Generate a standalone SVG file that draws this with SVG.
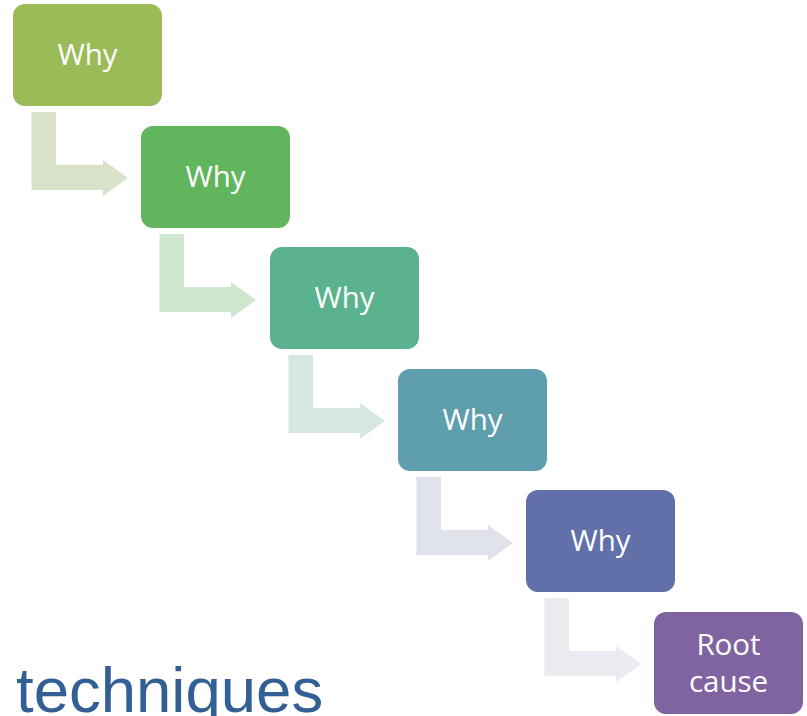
<svg xmlns="http://www.w3.org/2000/svg" width="807" height="716" viewBox="0 0 807 716">
<style>
.box{stroke:none}
.lbl{font-family:"Open Sans","Noto Sans",sans-serif;font-size:29.5px;fill:#ffffff;text-anchor:middle}
.ttl{font-family:"Liberation Sans",Arial,sans-serif;font-size:63.5px;fill:#336094}
</style>
<defs>
<path id="bent" d="M18.5,108 H43 V161 H90 V156 L115,174 L90,192 V186 H18.5 Z"/>
<rect id="card" width="149" height="102" rx="12" ry="12"/>
</defs>
<rect width="807" height="716" fill="#ffffff"/>
<g id="connectors">
<use href="#bent" x="13" y="4" fill="#D7E2C8"/>
<use href="#bent" x="141" y="126" fill="#CFE6CF"/>
<use href="#bent" x="270" y="247" fill="#D6E7E2"/>
<use href="#bent" x="398" y="369" fill="#E0E3EB"/>
<use href="#bent" x="526" y="490" fill="#ECEAF0"/>
</g>
<g id="why1"><use href="#card" x="13" y="4" fill="#9BBB59"/><text class="lbl" x="87.5" y="65">Why</text></g>
<g id="why2"><use href="#card" x="141" y="126" fill="#60B55D"/><text class="lbl" x="215.5" y="187">Why</text></g>
<g id="why3"><use href="#card" x="270" y="247" fill="#5BB28F"/><text class="lbl" x="344.5" y="308">Why</text></g>
<g id="why4"><use href="#card" x="398" y="369" fill="#5F9EAD"/><text class="lbl" x="472.5" y="430">Why</text></g>
<g id="why5"><use href="#card" x="526" y="490" fill="#6170A9"/><text class="lbl" x="600.5" y="551">Why</text></g>
<g id="root"><use href="#card" x="654" y="612" fill="#8064A2"/><text class="lbl" x="728.5" y="655">Root</text><text class="lbl" x="728.5" y="692">cause</text></g>
<text class="ttl" x="16" y="712">techniques</text>
</svg>
